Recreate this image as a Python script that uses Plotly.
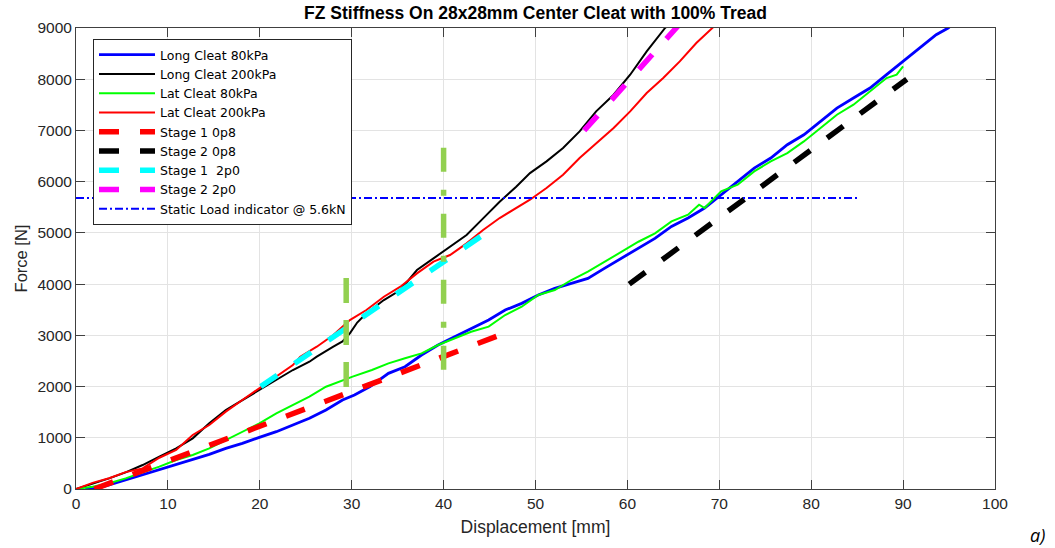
import plotly.graph_objects as go

# ---------------- data ----------------
long80_x = [1.0, 2.2, 3.6, 5.4, 7.25, 9.07, 10.9, 12.7, 14.5, 16.3, 18.1, 19.95, 21.8, 23.6, 25.4,
            27.2, 29.0, 30.3, 32.0, 34.0, 35.8, 37.6, 39.4, 41.2, 43.0, 44.9, 46.7, 48.5, 50.3,
            52.1, 53.9, 55.7, 57.5, 59.3, 61.2, 63.0, 64.8, 66.6, 68.4, 70.2, 72.0, 73.8, 75.6,
            77.4, 79.2, 81.0, 82.8, 84.6, 86.4, 88.2, 90.0, 91.8, 93.6, 94.9, 95.3]
long80_y = [0, 10, 78, 176, 273, 371, 468, 566, 677, 794, 892, 1009, 1119, 1249, 1380,
            1542, 1737, 1835, 2000, 2258, 2388, 2616, 2811, 2973, 3137, 3299, 3494, 3624, 3787,
            3917, 4015, 4112, 4308, 4503, 4698, 4893, 5127, 5290, 5485, 5745, 6006, 6266, 6461,
            6721, 6916, 7177, 7437, 7632, 7828, 8088, 8348, 8608, 8869, 9000, 9060]

long200_x = [0, 1.8, 3.6, 5.4, 7.25, 9.07, 10.9, 12.7, 14.5, 16.3, 18.1, 19.95, 21.8, 23.6, 25.4,
             26.2, 28.0, 29.0, 29.8, 30.6, 31.6, 33.5, 35.3, 37.1, 38.9, 40.7, 42.5, 44.3, 46.1,
             47.9, 49.4, 51.2, 53.0, 54.8, 56.6, 58.5, 60.3, 62.1, 63.2, 64.1, 65.0]
long200_y = [0, 97, 208, 325, 468, 631, 794, 989, 1282, 1542, 1737, 1932, 2128, 2323, 2485,
             2583, 2778, 2880, 3039, 3250, 3429, 3689, 3885, 4275, 4503, 4730, 4958, 5284, 5609,
             5901, 6168, 6396, 6656, 6982, 7372, 7697, 8088, 8544, 8804, 9000, 9150]

lat80_x = [0, 1.8, 3.6, 5.4, 7.25, 9.07, 10.9, 12.7, 14.5, 16.3, 18.1, 19.95, 21.8, 23.6, 25.4,
           27.2, 29.0, 30.1, 32.2, 34.0, 35.8, 37.6, 39.4, 41.2, 43.0, 44.9, 46.7, 48.5, 50.3,
           52.1, 53.9, 55.7, 57.5, 59.3, 61.2, 63.0, 64.8, 66.6, 67.8, 68.4, 70.2, 72.0, 73.8,
           75.6, 77.4, 79.2, 81.0, 82.8, 84.6, 86.4, 88.2, 89.3, 90.0]
lat80_y = [0, 45, 111, 208, 325, 436, 566, 664, 794, 957, 1119, 1282, 1477, 1640, 1802,
           1997, 2128, 2193, 2323, 2453, 2551, 2648, 2811, 2941, 3071, 3169, 3396, 3559, 3787,
           3885, 4080, 4242, 4437, 4632, 4827, 4991, 5225, 5355, 5550, 5485, 5810, 5941, 6201,
           6396, 6559, 6786, 7047, 7307, 7502, 7763, 8023, 8088, 8251]

lat200_x = [0, 0.9, 1.8, 3.6, 5.4, 7.25, 9.07, 10.9, 12.7, 14.5, 16.3, 18.1, 19.95, 21.8, 23.6,
            24.4, 26.2, 28.0, 29.8, 31.6, 33.5, 35.3, 37.1, 38.9, 40.7, 42.5, 44.3, 46.1, 47.6,
            49.4, 51.2, 53.0, 54.8, 56.6, 58.5, 60.3, 62.1, 63.9, 65.7, 67.5, 69.0, 69.6]
lat200_y = [0, 60, 120, 210, 330, 403, 610, 761, 1054, 1249, 1510, 1737, 1965, 2193, 2420,
            2583, 2778, 3006, 3299, 3494, 3754, 3950, 4210, 4438, 4568, 4796, 5056, 5290, 5453,
            5648, 5876, 6136, 6461, 6754, 7047, 7372, 7730, 8023, 8348, 8706, 8966, 9060]

stage1_08_x = [2.0, 46.5]
stage1_08_y = [0, 3030]
stage2_08_x = [60.2, 90.4]
stage2_08_y = [4000, 8000]
stage1_20_x = [20.1, 44.2]
stage1_20_y = [2000, 4950]
stage2_20_x = [55.3, 70.0]
stage2_20_y = [7000, 9940]

static_x = [0, 85]
static_y = [5680, 5680]

mark1_x = [29.4, 29.4]
mark1_y = [4120, 1970]
mark2_x = [40.0, 40.0]
mark2_y = [6660, 2320]

x_ticks = list(range(0, 101, 10))
y_ticks = list(range(0, 9001, 1000))

FONT = "Liberation Sans, Arial, Helvetica, sans-serif"
TXT = "#262626"

fig = go.Figure()

def curve(x, y, name, color, width=2.0):
    fig.add_trace(go.Scatter(x=x, y=y, mode="lines", name=name,
                             line=dict(color=color, width=width)))

curve(long80_x, long80_y, "Long Cleat 80kPa", "#0000ff", 2.8)
curve(long200_x, long200_y, "Long Cleat 200kPa", "#000000", 2.0)
curve(lat80_x, lat80_y, "Lat Cleat 80kPa", "#00ff00", 2.0)
curve(lat200_x, lat200_y, "Lat Cleat 200kPa", "#ff0000", 2.0)

def stage(x, y, name, color):
    fig.add_trace(go.Scatter(x=x, y=y, mode="lines", name=name,
                             line=dict(color=color, width=5.5, dash="20px,21px")))

stage(stage1_08_x, stage1_08_y, "Stage 1 0p8", "#ff0000")
stage(stage2_08_x, stage2_08_y, "Stage 2 0p8", "#000000")
stage(stage1_20_x, stage1_20_y, "Stage 1\u00a0 2p0", "#00ffff")
stage(stage2_20_x, stage2_20_y, "Stage 2 2p0", "#ff00ff")

fig.add_trace(go.Scatter(x=static_x, y=static_y, mode="lines",
                         name="Static Load indicator @ 5.6kN",
                         line=dict(color="#0000ff", width=2, dash="8px,3px,2px,3px")))

fig.add_trace(go.Scatter(x=mark1_x, y=mark1_y, mode="lines", showlegend=False,
                         line=dict(color="#92d050", width=5.5, dash="25px,17px")))
fig.add_trace(go.Scatter(x=mark2_x, y=mark2_y, mode="lines", showlegend=False,
                         line=dict(color="#92d050", width=5.5, dash="24px,18px,6px,18px")))

axis_common = dict(
    showline=True, linecolor="#404040", linewidth=1, mirror="ticks",
    ticks="inside", ticklen=9, tickcolor="#404040", tickwidth=1,
    showgrid=True, gridcolor="#e3e3e3", gridwidth=1, zeroline=False,
    tickfont=dict(family=FONT, size=15.5, color=TXT),
)

fig.update_xaxes(range=[0, 100], tickvals=x_ticks, ticktext=[str(v) for v in x_ticks],
                 title=dict(text="Displacement [mm]", font=dict(family=FONT, size=17.5, color=TXT),
                            standoff=10),
                 **axis_common)
fig.update_yaxes(range=[0, 9000], tickvals=y_ticks, ticktext=[str(v) for v in y_ticks],
                 title=dict(text="Force [N]", font=dict(family=FONT, size=16.5, color=TXT),
                            standoff=5),
                 **axis_common)

fig.update_layout(
    width=1055, height=548,
    margin=dict(l=76, r=60, t=28, b=59),
    paper_bgcolor="white", plot_bgcolor="white",
    title=dict(text="<b>FZ Stiffness On 28x28mm Center Cleat with 100% Tread</b>",
               x=0.5, xref="paper", xanchor="center",
               y=1 - 13 / 548, yref="container", yanchor="middle",
               font=dict(family=FONT, size=17.5, color="#000000")),
    legend=dict(x=(93 - 76) / 919, y=(489 - 39) / 461, xanchor="left", yanchor="top",
                bgcolor="white", bordercolor="#262626", borderwidth=1,
                font=dict(family="DejaVu Sans, sans-serif", size=12.5, color="#000000"),
                itemwidth=56, tracegroupgap=0),
    showlegend=True,
)

fig.add_annotation(text="<i>a)</i>", xref="paper", yref="paper",
                   x=(1037 - 76) / 919, y=(489 - 535) / 461,
                   xanchor="center", yanchor="middle", showarrow=False,
                   font=dict(family="Open Sans, Liberation Sans, sans-serif", size=18, color="#000000"))

fig.write_html("out.html")
